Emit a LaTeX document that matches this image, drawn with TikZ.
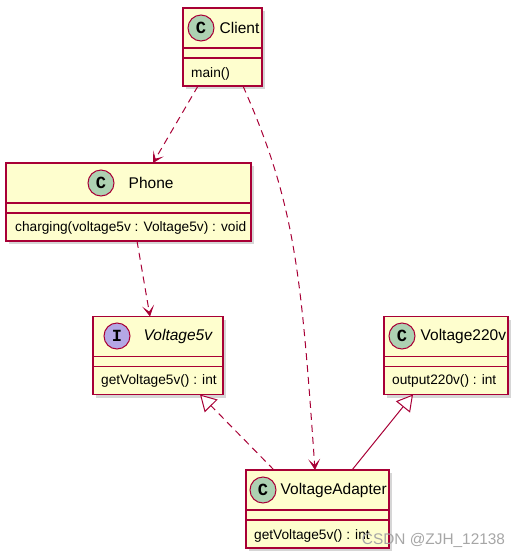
\documentclass[tikz,border=0pt]{standalone}
\usepackage{fontspec}
\setmainfont{Liberation Sans}
\newfontfamily\spotfont{Liberation Mono}
\usepackage{tikz}
\usetikzlibrary{
	calc,
	positioning,
	arrows.meta,
	shadows
}
\definecolor{umlred}{HTML}{A80036}
\definecolor{umlyellow}{HTML}{FEFECE}
\definecolor{spotC}{HTML}{ADD1B2}
\definecolor{spotI}{HTML}{B4A7E5}

\begin{document}
\begin{tikzpicture}[
				x=1pt, y=-1pt,
				classbox/.style={draw=umlred, fill=umlyellow, line width=1.5pt, outer sep=0pt, minimum height=78pt,
					drop shadow={shadow xshift=3pt, shadow yshift=-3pt, fill=black!40, opacity=0.4}},
				sep/.style={draw=umlred, line width=1.5pt},
				spot/.style={circle, draw=umlred, line width=1pt, minimum size=26pt, inner sep=0pt,
					font=\spotfont\bfseries\fontsize{17}{17}\selectfont},
				title/.style={inner sep=0pt, font=\fontsize{15.5}{18}\selectfont},
				member/.style={inner sep=0pt, anchor=west, font=\fontsize{13.7}{16}\selectfont},
				depend/.style={draw=umlred, line width=1pt, dash pattern=on 7pt off 5pt,
					-{Stealth[length=11pt, width=12pt, inset=6pt]}},
				realize/.style={draw=umlred, line width=1pt, dash pattern=on 7pt off 5pt,
					-{Triangle[open, length=16pt, width=18pt, fill=white]}},
				extend/.style={draw=umlred, line width=1pt,
					-{Triangle[open, length=16pt, width=18pt, fill=white]}}
			]
				\useasboundingbox (0,0) rectangle (521,558);
				% 类框
				\node[classbox, minimum width=79pt]  (client)  at (222.5,47)  {};
				\node[classbox, minimum width=245pt] (phone)   at (128.5,202) {};
				\node[classbox, minimum width=130pt] (v5)      at (158,355.5) {};
				\node[classbox, minimum width=124pt] (v220)    at (446,355.5) {};
				\node[classbox, minimum width=143pt] (adapter) at (317.5,509) {};
				% 分隔线
				\foreach \c in {client,phone,v5,v220,adapter} {
					\draw[sep] ($(\c.north west)+(0,40)$) -- ($(\c.north east)+(0,40)$);
					\draw[sep] ($(\c.north west)+(0,50)$) -- ($(\c.north east)+(0,50)$);
				}
				% 标题
				\node[spot, fill=spotC] (clientSpot)  at (201,28)  {C};
				\node[title, right=5pt of clientSpot]   (clientName)  {Client};
				\node[spot, fill=spotC] (phoneSpot)   at (101,183) {C};
				\node[title, right=14pt of phoneSpot]   (phoneName)   {Phone};
				\node[spot, fill=spotI] (v5Spot)      at (117,336) {I};
				\node[title, right=13pt of v5Spot]      (v5Name)      {\itshape Voltage5v};
				\node[spot, fill=spotC] (v220Spot)    at (402,336) {C};
				\node[title, right=5pt of v220Spot]     (v220Name)    {Voltage220v};
				\node[spot, fill=spotC] (adapterSpot) at (263,490) {C};
				\node[title, right=4pt of adapterSpot]  (adapterName) {VoltageAdapter};
				% 方法
				\node[member] (clientMain)   at (191,74)  {main()};
				\node[member] (phoneCharge)  at (15,228)  {charging(voltage5v : Voltage5v) : void};
				\node[member] (v5Get)        at (101,381) {getVoltage5v() : int};
				\node[member] (v220Out)      at (392,381) {output220v() : int};
				\node[member] (adapterGet)   at (254,536) {getVoltage5v() : int};
				% 连线
				\draw[depend]  ($(client.south)+(-24.5,0)$) -- ($(phone.north)+(24.5,0)$);
				\draw[depend]  ($(phone.south)+(8.5,0)$)    -- ($(v5.north)+(-8,0)$);
				\draw[depend]  ($(client.south)+(20.5,0)$)
					.. controls ($(client.south)+(72.5,118)$) and ($(adapter.north)+(-16.5,-200)$)
					.. ($(adapter.north)+(-2.5,0)$);
				\draw[realize] ($(adapter.north)+(-43.5,0)$) -- ($(v5.south)+(42,0)$);
				\draw[extend]  ($(adapter.north)+(34.5,0)$)  -- ($(v220.south)+(-33,0)$);
				% 水印
				\node[text=black!35, font=\fontsize{15.4}{18}\selectfont] (watermark) at (433.5,540) {CSDN @ZJH\_12138};
			\end{tikzpicture}
\end{document}
